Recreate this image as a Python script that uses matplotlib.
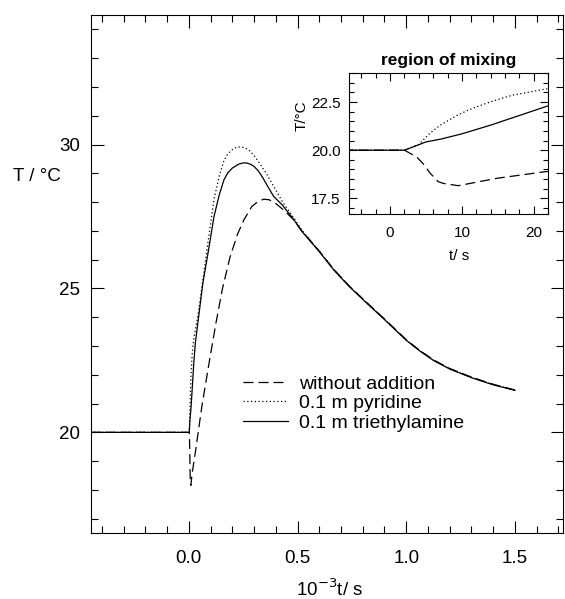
import numpy as np
import matplotlib
matplotlib.use('Agg')
import matplotlib.pyplot as plt
from matplotlib.ticker import MultipleLocator, FormatStrFormatter

plt.rcParams['font.family'] = ['Liberation Sans', 'DejaVu Sans']

# temperature curves, time in s
t_without = [-450, 2, 3.7, 4.6, 5.6, 6.7, 7.4, 9.5, 14.8, 21.5, 32, 60, 93, 125, 155, 190,
             225, 254, 290, 320, 345, 370, 400, 440, 483, 520, 600, 667, 740, 820, 900,
             1000, 1060, 1125, 1200, 1300, 1400, 1500]
T_without = [20, 20, 19.65, 19.3, 18.8, 18.37, 18.28, 18.16, 18.54, 18.88, 19.4, 20.9, 22.4, 23.8, 25.0, 26.1,
             26.9, 27.39, 27.85, 28.03, 28.1, 28.08, 27.95, 27.7, 27.38, 27.0, 26.3, 25.66, 25.07, 24.5, 23.94,
             23.22, 22.86, 22.52, 22.22, 21.92, 21.67, 21.47]

t_pyridine = [-450, 2, 4, 5.6, 7, 9.3, 11, 13.9, 17, 21.3, 24, 45, 63, 90, 116, 140, 162,
              180, 200, 220, 239, 260, 280, 300, 330, 360, 390, 430, 483, 520, 600, 667, 740, 820, 900,
              1000, 1060, 1125, 1200, 1300, 1400, 1500]
T_pyridine = [20, 20, 20.3, 20.9, 21.3, 21.8, 22.1, 22.5, 22.85, 23.15, 23.3, 24.2, 25.2, 26.7, 28.1, 28.9, 29.45,
              29.68, 29.82, 29.9, 29.92, 29.88, 29.78, 29.62, 29.3, 28.95, 28.55, 28.02, 27.45, 27.02, 26.3, 25.66, 25.06, 24.49, 23.93,
              23.21, 22.85, 22.51, 22.21, 21.91, 21.66, 21.47]

t_triethyl = [-450, 2, 5, 7, 10, 14, 18, 22, 30, 45, 65, 90, 116, 140, 162, 180, 200, 230, 250, 265,
              285, 300, 320, 340, 365, 390, 430, 483, 520, 600, 667, 740, 820, 900,
              1000, 1060, 1125, 1200, 1300, 1400, 1500]
T_triethyl = [20, 20, 20.43, 20.57, 20.85, 21.3, 21.8, 22.3, 23.1, 24.0, 25.2, 26.3, 27.5, 28.25, 28.78, 29.02, 29.18, 29.32, 29.36, 29.36,
              29.31, 29.24, 29.08, 28.85, 28.52, 28.2, 27.9, 27.39, 26.98, 26.28, 25.64, 25.05, 24.48, 23.92,
              23.2, 22.84, 22.5, 22.2, 21.9, 21.65, 21.46]

labels = ['without addition', '0.1 m pyridine', '0.1 m triethylamine']

fig = plt.figure(figsize=(5.65, 5.99), dpi=100)
ax = fig.add_axes([0.161, 0.110, 0.835, 0.865])

series = [(t_without, T_without, dict(dashes=(8, 4), lw=0.9)),
          (t_pyridine, T_pyridine, dict(dashes=(1, 2), lw=0.9)),
          (t_triethyl, T_triethyl, dict(lw=0.9))]

for (t, T, st), lab in zip(series, labels):
    ax.plot(np.array(t) / 1000, T, color='black', label=lab, **st)

ax.set_xlim(-0.45, 1.72)
ax.set_ylim(16.5, 34.5)
ax.xaxis.set_major_locator(MultipleLocator(0.5))
ax.xaxis.set_minor_locator(MultipleLocator(0.1))
ax.yaxis.set_major_locator(MultipleLocator(5))
ax.yaxis.set_minor_locator(MultipleLocator(1))
ax.xaxis.set_major_formatter(FormatStrFormatter('%.1f'))
ax.tick_params(which='both', direction='in', top=True, right=True, labelsize=13.5, width=0.8)
ax.tick_params(which='major', length=9)
ax.tick_params(which='minor', length=5)
ax.tick_params(axis='x', pad=12)
ax.tick_params(axis='y', pad=8)
for s in ax.spines.values():
    s.set_linewidth(0.8)

ax.set_xlabel('10$^{-3}$t/ s', fontsize=13.5, va='center')
ax.xaxis.set_label_coords(0.506, -0.108)
ax.set_ylabel('T / °C', fontsize=13.5, rotation=0, ha='center', va='center')
ax.yaxis.set_label_coords(-0.114, 0.689)

ax.legend(loc='upper left', bbox_to_anchor=(0.322, 0.305), frameon=False, fontsize=14,
          handlelength=2.3, handletextpad=0.6, labelspacing=0.1, borderpad=0, borderaxespad=0)

# inset: region of mixing
ins = fig.add_axes([0.618, 0.643, 0.352, 0.235])
for (t, T, st), lab in zip(series, labels):
    ins.plot(t, T, color='black', **st)
ins.set_xlim(-5.7, 22)
ins.set_ylim(16.7, 24)
ins.xaxis.set_major_locator(MultipleLocator(10))
ins.xaxis.set_minor_locator(MultipleLocator(2))
ins.yaxis.set_major_locator(MultipleLocator(2.5))
ins.yaxis.set_minor_locator(MultipleLocator(0.5))
ins.yaxis.set_major_formatter(FormatStrFormatter('%.1f'))
ins.tick_params(which='both', direction='in', top=True, right=True, labelsize=11, width=0.8)
ins.tick_params(which='major', length=6)
ins.tick_params(which='minor', length=3.5)
ins.tick_params(axis='x', pad=9)
ins.tick_params(axis='y', pad=6)
for s in ins.spines.values():
    s.set_linewidth(0.8)
ins.set_title('region of mixing', fontsize=12.5, fontweight='bold', pad=6)
ins.set_xlabel('t/ s', fontsize=11, va='center')
ins.xaxis.set_label_coords(0.553, -0.30)
ins.set_ylabel('T/°C', fontsize=11, ha='center', va='center')
ins.yaxis.set_label_coords(-0.24, 0.695)

fig.savefig('out.png', dpi=100)
